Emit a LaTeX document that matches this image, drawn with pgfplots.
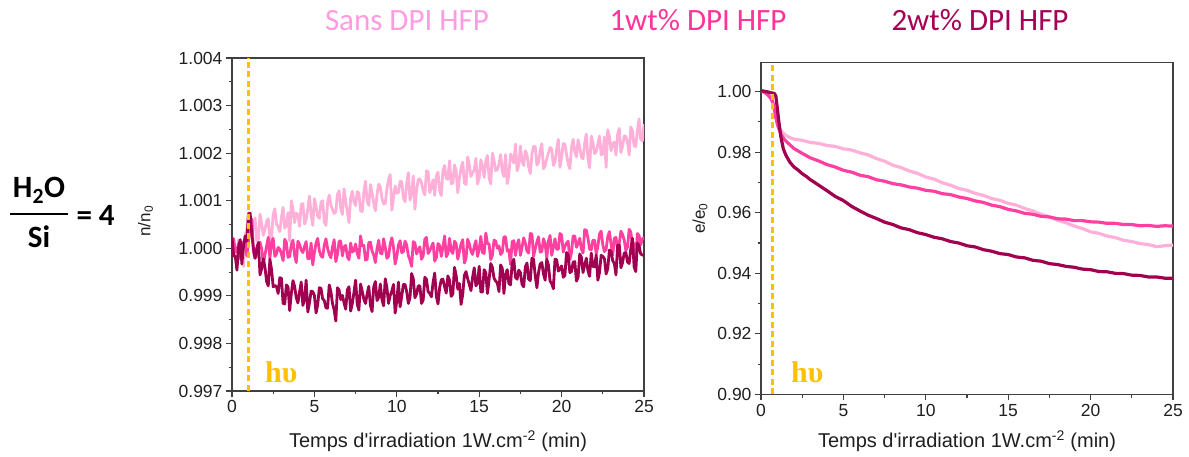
\documentclass[border=0pt]{standalone}
\usepackage{pgfplots}
\pgfplotsset{compat=1.18}
\usepackage{fontspec}
\setmainfont{Liberation Sans}
\newfontfamily\calibri{Carlito}
\newfontfamily\cambria{Liberation Serif}
\definecolor{lightpk}{HTML}{FFB0D9}
\definecolor{hotpk}{HTML}{FF40A0}
\definecolor{darkpk}{HTML}{A0004F}
\definecolor{tlight}{HTML}{FF9BE0}
\definecolor{thot}{HTML}{FF3399}
\definecolor{tdark}{HTML}{A50055}
\definecolor{hvcol}{HTML}{FFC000}
\definecolor{axisgray}{HTML}{404040}
\pgfplotsset{
  myax/.style={
    scale only axis, width=412pt,
    xmin=0, xmax=25, xtick={0,5,10,15,20,25},
    minor x tick num=1, minor y tick num=1,
    tick align=outside, tick pos=left,
    axis line style={draw=axisgray, line width=1.2pt},
    major tick length=6pt, minor tick length=3.5pt,
    tick style={draw=axisgray, line width=1.1pt},
    tick label style={font=\fontsize{17.5}{20}\selectfont, text=black!88},
    /pgf/number format/assume math mode=true,
    scaled y ticks=false, scaled x ticks=false,
    label style={text=black!88},
  }
}
\begin{document}
\begin{tikzpicture}[x=1pt,y=1pt]
\path[use as bounding box] (0,0) rectangle (1189,457);

% top legend titles
\node[anchor=base, font=\calibri\fontsize{31}{36}\selectfont, text=tlight] at (407,426) {Sans DPI HFP};
\node[anchor=base, font=\calibri\fontsize{31}{36}\selectfont, text=thot] at (698,426) {1wt\% DPI HFP};
\node[anchor=base, font=\calibri\fontsize{31}{36}\selectfont, text=tdark] at (980,426) {2wt\% DPI HFP};

% H2O / Si = 4
\node[anchor=base, font=\calibri\bfseries\fontsize{31}{36}\selectfont] at (39,259) {H\textsubscript{2}O};
\draw[line width=2.5pt] (10,243) -- (68,243);
\node[anchor=base, font=\calibri\bfseries\fontsize{31}{36}\selectfont] at (39,209) {Si};
\node[anchor=base west, font=\calibri\bfseries\fontsize{31}{36}\selectfont] at (73,231) {= 4};

% ---------------- left axis ----------------
\begin{axis}[myax,
  at={(232pt,66pt)}, anchor=south west, height=333pt,
  ymin=0.997, ymax=1.004,
  ytick={0.997,0.998,0.999,1.000,1.001,1.002,1.003,1.004},
  yticklabel style={/pgf/number format/.cd, fixed, fixed zerofill, precision=3},
  xlabel={Temps d\textquotesingle irradiation 1W.cm\textsuperscript{-2} (min)},
  xlabel style={at={(axis description cs:0.5,0)}, anchor=base, yshift=-57pt, font=\fontsize{20}{24}\selectfont},
  ylabel={n/n\textsubscript{0}},
  ylabel style={at={(axis description cs:-0.21,0.51)}, anchor=center, font=\fontsize{17}{20}\selectfont},
]
\addplot[lightpk, line width=2.8pt, line join=round] table[row sep=\\, y index=0, x expr=\coordindex*0.1] {
1.00005\\ 1.00021\\ 0.99988\\ 0.99971\\ 1.00018\\ 1.00012\\ 0.99992\\ 0.99962\\ 1.00027\\ 1.00040\\
1.00075\\ 1.00023\\ 1.00038\\ 1.00040\\ 1.00064\\ 1.00015\\ 1.00020\\ 1.00072\\ 1.00051\\ 1.00027\\
1.00040\\ 1.00056\\ 1.00062\\ 1.00015\\ 1.00025\\ 1.00071\\ 1.00083\\ 1.00051\\ 1.00045\\ 1.00035\\
1.00064\\ 1.00086\\ 1.00042\\ 1.00049\\ 1.00075\\ 1.00015\\ 1.00100\\ 1.00082\\ 1.00054\\ 1.00074\\
1.00070\\ 1.00046\\ 1.00092\\ 1.00094\\ 1.00051\\ 1.00060\\ 1.00083\\ 1.00110\\ 1.00071\\ 1.00048\\
1.00104\\ 1.00088\\ 1.00068\\ 1.00063\\ 1.00097\\ 1.00100\\ 1.00056\\ 1.00048\\ 1.00095\\ 1.00112\\
1.00091\\ 1.00081\\ 1.00073\\ 1.00077\\ 1.00113\\ 1.00121\\ 1.00083\\ 1.00071\\ 1.00125\\ 1.00098\\
1.00077\\ 1.00054\\ 1.00105\\ 1.00120\\ 1.00097\\ 1.00090\\ 1.00119\\ 1.00116\\ 1.00079\\ 1.00077\\
1.00117\\ 1.00141\\ 1.00099\\ 1.00090\\ 1.00134\\ 1.00116\\ 1.00095\\ 1.00079\\ 1.00113\\ 1.00135\\
1.00129\\ 1.00105\\ 1.00093\\ 1.00095\\ 1.00125\\ 1.00145\\ 1.00155\\ 1.00080\\ 1.00107\\ 1.00131\\
1.00116\\ 1.00117\\ 1.00141\\ 1.00140\\ 1.00106\\ 1.00098\\ 1.00136\\ 1.00159\\ 1.00101\\ 1.00114\\
1.00152\\ 1.00082\\ 1.00123\\ 1.00144\\ 1.00146\\ 1.00137\\ 1.00121\\ 1.00112\\ 1.00163\\ 1.00161\\
1.00117\\ 1.00129\\ 1.00144\\ 1.00111\\ 1.00152\\ 1.00160\\ 1.00121\\ 1.00111\\ 1.00163\\ 1.00174\\
1.00147\\ 1.00145\\ 1.00184\\ 1.00136\\ 1.00137\\ 1.00175\\ 1.00163\\ 1.00117\\ 1.00147\\ 1.00169\\
1.00181\\ 1.00137\\ 1.00134\\ 1.00192\\ 1.00175\\ 1.00151\\ 1.00159\\ 1.00165\\ 1.00189\\ 1.00135\\
1.00148\\ 1.00186\\ 1.00173\\ 1.00149\\ 1.00183\\ 1.00195\\ 1.00148\\ 1.00135\\ 1.00200\\ 1.00185\\
1.00163\\ 1.00165\\ 1.00177\\ 1.00197\\ 1.00162\\ 1.00151\\ 1.00197\\ 1.00136\\ 1.00154\\ 1.00198\\
1.00192\\ 1.00179\\ 1.00219\\ 1.00163\\ 1.00175\\ 1.00215\\ 1.00183\\ 1.00174\\ 1.00205\\ 1.00197\\
1.00171\\ 1.00157\\ 1.00198\\ 1.00214\\ 1.00214\\ 1.00175\\ 1.00180\\ 1.00205\\ 1.00220\\ 1.00167\\
1.00174\\ 1.00188\\ 1.00200\\ 1.00212\\ 1.00209\\ 1.00174\\ 1.00182\\ 1.00208\\ 1.00229\\ 1.00170\\
1.00192\\ 1.00220\\ 1.00219\\ 1.00197\\ 1.00178\\ 1.00167\\ 1.00212\\ 1.00229\\ 1.00203\\ 1.00192\\
1.00228\\ 1.00212\\ 1.00191\\ 1.00188\\ 1.00221\\ 1.00240\\ 1.00188\\ 1.00169\\ 1.00236\\ 1.00222\\
1.00199\\ 1.00203\\ 1.00218\\ 1.00236\\ 1.00197\\ 1.00198\\ 1.00234\\ 1.00170\\ 1.00249\\ 1.00236\\
1.00205\\ 1.00220\\ 1.00223\\ 1.00196\\ 1.00239\\ 1.00252\\ 1.00201\\ 1.00215\\ 1.00236\\ 1.00235\\
1.00222\\ 1.00196\\ 1.00255\\ 1.00247\\ 1.00215\\ 1.00214\\ 1.00248\\ 1.00272\\ 1.00229\\ 1.00226\\
1.00261\\
};
\addplot[hotpk, line width=2.8pt, line join=round] table[row sep=\\, y index=0, x expr=\coordindex*0.1] {
1.00017\\ 1.00019\\ 0.99993\\ 0.99993\\ 1.00010\\ 0.99978\\ 0.99986\\ 1.00013\\ 1.00020\\ 0.99984\\
1.00015\\ 1.00045\\ 1.00062\\ 0.99993\\ 0.99979\\ 0.99985\\ 1.00010\\ 1.00013\\ 0.99999\\ 0.99967\\
0.99986\\ 1.00005\\ 1.00023\\ 0.99979\\ 1.00012\\ 1.00021\\ 0.99983\\ 0.99988\\ 1.00002\\ 0.99998\\
0.99988\\ 0.99974\\ 1.00019\\ 1.00012\\ 0.99981\\ 0.99983\\ 1.00008\\ 1.00017\\ 0.99985\\ 0.99970\\
1.00015\\ 1.00008\\ 0.99996\\ 0.99991\\ 1.00004\\ 1.00014\\ 0.99978\\ 0.99978\\ 1.00011\\ 0.99965\\
0.99991\\ 1.00011\\ 1.00021\\ 0.99995\\ 0.99984\\ 0.99981\\ 1.00007\\ 1.00020\\ 1.00000\\ 0.99987\\
0.99980\\ 1.00003\\ 1.00018\\ 0.99972\\ 0.99987\\ 1.00015\\ 1.00015\\ 0.99984\\ 1.00003\\ 1.00006\\
0.99982\\ 0.99976\\ 1.00011\\ 0.99992\\ 0.99995\\ 1.00009\\ 0.99989\\ 0.99979\\ 1.00026\\ 1.00005\\
1.00006\\ 0.99975\\ 0.99977\\ 1.00012\\ 1.00013\\ 0.99994\\ 0.99986\\ 0.99970\\ 0.99999\\ 1.00017\\
0.99990\\ 0.99988\\ 1.00020\\ 1.00002\\ 0.99979\\ 0.99983\\ 1.00009\\ 1.00022\\ 1.00002\\ 0.99967\\
0.99983\\ 1.00007\\ 1.00016\\ 0.99991\\ 0.99993\\ 1.00015\\ 1.00007\\ 0.99985\\ 0.99975\\ 0.99962\\
1.00014\\ 1.00011\\ 0.99988\\ 0.99997\\ 1.00003\\ 0.99977\\ 0.99984\\ 1.00019\\ 1.00023\\ 0.99989\\
0.99995\\ 1.00003\\ 1.00011\\ 0.99973\\ 0.99980\\ 1.00010\\ 1.00006\\ 0.99983\\ 1.00002\\ 1.00026\\
0.99982\\ 0.99989\\ 1.00021\\ 0.99995\\ 0.99989\\ 1.00015\\ 1.00010\\ 0.99977\\ 0.99993\\ 1.00009\\
1.00018\\ 0.99969\\ 0.99979\\ 1.00019\\ 1.00009\\ 0.99994\\ 0.99987\\ 1.00004\\ 1.00016\\ 0.99983\\
0.99998\\ 1.00025\\ 0.99991\\ 0.99989\\ 1.00032\\ 1.00010\\ 1.00009\\ 0.99976\\ 0.99985\\ 1.00017\\
1.00015\\ 1.00000\\ 1.00005\\ 0.99987\\ 0.99991\\ 1.00024\\ 1.00024\\ 0.99994\\ 0.99997\\ 0.99966\\
1.00014\\ 1.00016\\ 0.99985\\ 1.00008\\ 1.00018\\ 0.99985\\ 1.00002\\ 1.00022\\ 1.00011\\ 0.99994\\
0.99990\\ 1.00031\\ 1.00030\\ 0.99983\\ 0.99999\\ 1.00013\\ 1.00024\\ 0.99992\\ 0.99993\\ 1.00020\\
1.00010\\ 0.99979\\ 1.00015\\ 1.00027\\ 0.99985\\ 1.00003\\ 1.00020\\ 0.99998\\ 0.99998\\ 1.00031\\
1.00028\\ 0.99992\\ 1.00004\\ 1.00011\\ 1.00015\\ 0.99976\\ 0.99991\\ 1.00026\\ 1.00026\\ 1.00002\\
1.00010\\ 1.00021\\ 0.99999\\ 0.99990\\ 1.00039\\ 1.00038\\ 1.00021\\ 0.99998\\ 0.99997\\ 1.00017\\
1.00017\\ 0.99988\\ 1.00004\\ 1.00030\\ 1.00036\\ 1.00007\\ 0.99993\\ 0.99998\\ 1.00024\\ 1.00035\\
1.00009\\ 0.99985\\ 1.00021\\ 1.00023\\ 0.99998\\ 1.00011\\ 1.00036\\ 1.00029\\ 1.00017\\ 0.99995\\
1.00003\\ 1.00040\\ 1.00034\\ 1.00005\\ 1.00010\\ 0.99980\\ 1.00031\\ 1.00027\\ 1.00007\\ 1.00020\\
1.00022\\
};
\addplot[darkpk, line width=2.8pt, line join=round] table[row sep=\\, y index=0, x expr=\coordindex*0.1] {
1.00023\\ 0.99984\\ 0.99983\\ 0.99954\\ 1.00002\\ 1.00018\\ 0.99967\\ 1.00005\\ 1.00026\\ 1.00014\\
1.00072\\ 1.00074\\ 1.00031\\ 1.00000\\ 0.99979\\ 1.00000\\ 1.00012\\ 0.99944\\ 0.99957\\ 0.99978\\
0.99960\\ 0.99930\\ 0.99921\\ 0.99977\\ 0.99955\\ 0.99919\\ 0.99922\\ 0.99919\\ 0.99905\\ 0.99938\\
0.99937\\ 0.99884\\ 0.99883\\ 0.99923\\ 0.99919\\ 0.99869\\ 0.99905\\ 0.99932\\ 0.99920\\ 0.99896\\
0.99885\\ 0.99908\\ 0.99929\\ 0.99880\\ 0.99892\\ 0.99933\\ 0.99866\\ 0.99885\\ 0.99910\\ 0.99909\\
0.99901\\ 0.99864\\ 0.99881\\ 0.99917\\ 0.99916\\ 0.99894\\ 0.99890\\ 0.99875\\ 0.99874\\ 0.99923\\
0.99909\\ 0.99884\\ 0.99870\\ 0.99847\\ 0.99917\\ 0.99912\\ 0.99892\\ 0.99901\\ 0.99885\\ 0.99872\\
0.99913\\ 0.99919\\ 0.99868\\ 0.99884\\ 0.99907\\ 0.99933\\ 0.99882\\ 0.99870\\ 0.99925\\ 0.99910\\
0.99893\\ 0.99884\\ 0.99904\\ 0.99920\\ 0.99880\\ 0.99867\\ 0.99919\\ 0.99930\\ 0.99890\\ 0.99897\\
0.99925\\ 0.99892\\ 0.99879\\ 0.99936\\ 0.99917\\ 0.99884\\ 0.99901\\ 0.99910\\ 0.99924\\ 0.99864\\
0.99889\\ 0.99929\\ 0.99877\\ 0.99899\\ 0.99924\\ 0.99924\\ 0.99909\\ 0.99884\\ 0.99896\\ 0.99947\\
0.99936\\ 0.99896\\ 0.99904\\ 0.99921\\ 0.99921\\ 0.99884\\ 0.99891\\ 0.99939\\ 0.99935\\ 0.99909\\
0.99905\\ 0.99898\\ 0.99928\\ 0.99948\\ 0.99899\\ 0.99883\\ 0.99917\\ 0.99934\\ 0.99935\\ 0.99919\\
0.99906\\ 0.99942\\ 0.99933\\ 0.99899\\ 0.99904\\ 0.99960\\ 0.99943\\ 0.99914\\ 0.99926\\ 0.99882\\
0.99903\\ 0.99943\\ 0.99951\\ 0.99936\\ 0.99924\\ 0.99911\\ 0.99939\\ 0.99959\\ 0.99921\\ 0.99927\\
0.99962\\ 0.99908\\ 0.99908\\ 0.99955\\ 0.99949\\ 0.99905\\ 0.99934\\ 0.99968\\ 0.99960\\ 0.99937\\
0.99931\\ 0.99927\\ 0.99909\\ 0.99965\\ 0.99958\\ 0.99905\\ 0.99945\\ 0.99955\\ 0.99926\\ 0.99923\\
0.99968\\ 0.99977\\ 0.99939\\ 0.99935\\ 0.99954\\ 0.99949\\ 0.99924\\ 0.99919\\ 0.99961\\ 0.99969\\
0.99935\\ 0.99932\\ 0.99979\\ 0.99977\\ 0.99942\\ 0.99917\\ 0.99949\\ 0.99967\\ 0.99970\\ 0.99946\\
0.99933\\ 0.99977\\ 0.99965\\ 0.99931\\ 0.99926\\ 0.99915\\ 0.99977\\ 0.99976\\ 0.99952\\ 0.99956\\
0.99963\\ 0.99939\\ 0.99943\\ 0.99991\\ 0.99986\\ 0.99949\\ 0.99951\\ 0.99971\\ 0.99972\\ 0.99931\\
0.99939\\ 0.99988\\ 0.99981\\ 0.99949\\ 0.99965\\ 0.99979\\ 0.99952\\ 0.99941\\ 0.99990\\ 0.99962\\
0.99961\\ 0.99986\\ 0.99933\\ 0.99949\\ 0.99985\\ 0.99983\\ 0.99978\\ 0.99946\\ 0.99957\\ 0.99996\\
0.99994\\ 0.99974\\ 0.99968\\ 0.99944\\ 1.00006\\ 1.00007\\ 0.99959\\ 0.99970\\ 0.99990\\ 0.99991\\
0.99971\\ 0.99968\\ 1.00000\\ 1.00021\\ 0.99961\\ 0.99951\\ 1.00011\\ 1.00005\\ 0.99988\\ 0.99986\\
0.99985\\
};
\addplot[hvcol, line width=2.2pt, dash pattern=on 6pt off 3.5pt] coordinates {(1.0,0.997) (1.0,1.004)};
\node[anchor=base west, font=\cambria\bfseries\fontsize{30}{34}\selectfont, text=hvcol] at (axis cs:1.8,0.99717) {hυ};
\end{axis}

% ---------------- right axis ----------------
\begin{axis}[myax,
  at={(761pt,62.5pt)}, anchor=south west, height=332pt,
  ymin=0.90, ymax=1.0096,
  ytick={0.90,0.92,0.94,0.96,0.98,1.00},
  yticklabel style={/pgf/number format/.cd, fixed, fixed zerofill, precision=2},
  xlabel={Temps d\textquotesingle irradiation 1W.cm\textsuperscript{-2} (min)},
  xlabel style={at={(axis description cs:0.5,0)}, anchor=base, yshift=-53.5pt, font=\fontsize{20}{24}\selectfont},
  ylabel={e/e\textsubscript{0}},
  ylabel style={at={(axis description cs:-0.148,0.53)}, anchor=center, font=\fontsize{17}{20}\selectfont},
]
\addplot[lightpk, line width=3.2pt, line join=round] table {
0 1.0003
0.2 0.9998
0.4 0.9990
0.6 0.9975
0.7 0.9963
0.8 0.9940
0.9 0.9915
1.0 0.9897
1.2 0.9873
1.4 0.9860
1.6 0.9852
1.8 0.9847
2.0 0.9843
2.5 0.9839
3.0 0.9832
3.5 0.9829
4.0 0.9822
4.5 0.9819
5.0 0.9811
5.5 0.9807
6.0 0.9798
6.5 0.9791
7.0 0.9779
7.5 0.9770
8.0 0.9757
8.5 0.9749
9.0 0.9738
9.5 0.9730
10 0.9718
10.5 0.9711
11 0.9699
11.5 0.9691
12 0.9680
12.5 0.9674
13 0.9664
13.5 0.9657
14 0.9647
14.5 0.9641
15 0.9631
15.5 0.9625
16 0.9614
16.5 0.9606
17 0.9595
17.5 0.9587
18 0.9575
18.5 0.9567
19 0.9556
19.5 0.9548
20 0.9537
20.5 0.9532
21 0.9523
21.5 0.9518
22 0.9509
22.5 0.9505
23 0.9498
23.5 0.9495
24 0.9488
24.5 0.9491
25 0.9493
};
\addplot[hotpk, line width=3.2pt, line join=round] table {
0 1.0002
0.2 0.9998
0.4 0.9990
0.6 0.9978
0.7 0.9968
0.8 0.9945
0.9 0.9915
1.0 0.9890
1.2 0.9860
1.4 0.9843
1.6 0.9832
1.8 0.9822
2.0 0.9812
2.5 0.9796
3.0 0.9781
3.5 0.9771
4.0 0.9759
4.5 0.9751
5.0 0.9740
5.5 0.9734
6.0 0.9724
6.5 0.9719
7.0 0.9709
7.5 0.9704
8.0 0.9696
8.5 0.9692
9.0 0.9685
9.5 0.9681
10 0.9674
10.5 0.9671
11 0.9663
11.5 0.9660
12 0.9652
12.5 0.9647
13 0.9639
13.5 0.9634
14 0.9625
14.5 0.9620
15 0.9611
15.5 0.9606
16 0.9598
16.5 0.9595
17 0.9588
17.5 0.9586
18 0.9580
18.5 0.9579
19 0.9574
19.5 0.9574
20 0.9570
20.5 0.9569
21 0.9565
21.5 0.9565
22 0.9561
22.5 0.9561
23 0.9557
23.5 0.9558
24 0.9555
24.5 0.9557
25 0.9556
};
\addplot[darkpk, line width=3.2pt, line join=round] table {
0 1.0003
0.2 1.0001
0.4 0.9999
0.6 0.9996
0.8 0.9994
0.9 0.9986
1.0 0.9940
1.1 0.9893
1.2 0.9852
1.35 0.9812
1.5 0.9791
1.75 0.9767
2.0 0.9751
2.25 0.9741
2.5 0.9729
2.75 0.9720
3.0 0.9709
3.5 0.9691
4.0 0.9673
4.5 0.9654
5.0 0.9640
5.5 0.9621
6.0 0.9606
6.5 0.9592
7.0 0.9581
7.5 0.9569
8.0 0.9561
8.5 0.9550
9.0 0.9544
9.5 0.9534
10 0.9528
10.5 0.9519
11 0.9514
11.5 0.9505
12 0.9500
12.5 0.9491
13 0.9487
13.5 0.9478
14 0.9473
14.5 0.9465
15 0.9462
15.5 0.9454
16 0.9451
16.5 0.9443
17 0.9440
17.5 0.9432
18 0.9429
18.5 0.9423
19 0.9420
19.5 0.9414
20 0.9412
20.5 0.9406
21 0.9405
21.5 0.9400
22 0.9399
22.5 0.9394
23 0.9393
23.5 0.9388
24 0.9388
24.5 0.9384
25 0.9384
};
\addplot[hvcol, line width=2.2pt, dash pattern=on 6pt off 3.5pt] coordinates {(0.7,0.90) (0.7,1.0096)};
\node[anchor=base west, font=\cambria\bfseries\fontsize{30}{34}\selectfont, text=hvcol] at (axis cs:1.62,0.9038) {hυ};
\end{axis}
\end{tikzpicture}
\end{document}
